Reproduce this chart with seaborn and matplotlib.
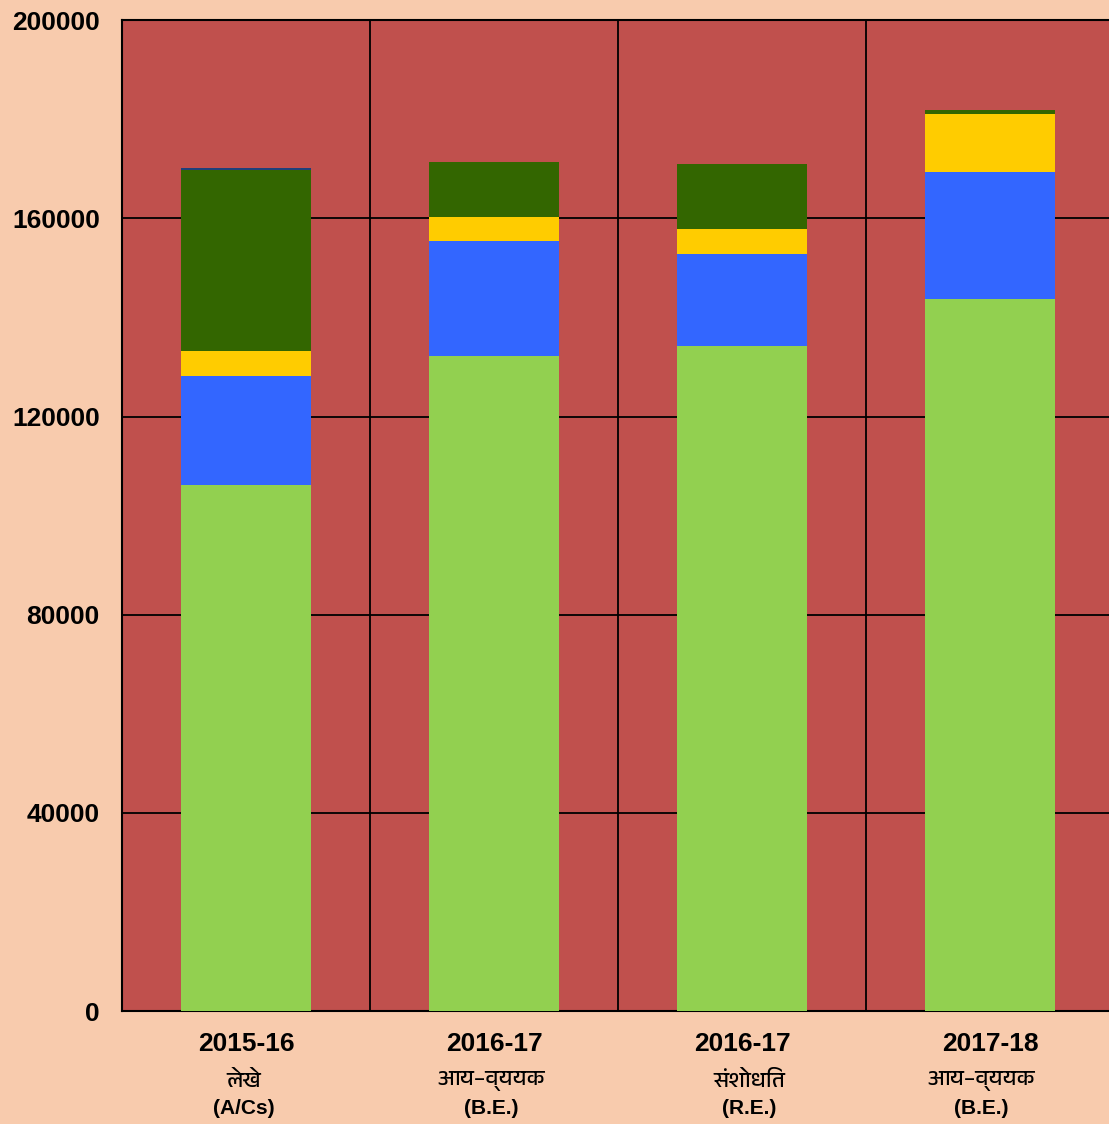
import numpy as np
import pandas as pd
import seaborn as sns
import matplotlib.pyplot as plt
from matplotlib import font_manager

# data
years = ['2015-16', '2016-17', '2016-17 ', '2017-18']
hindi = ['लेखे', 'आय–व्ययक', 'संशोधित', 'आय–व्ययक']
abbr = ['(A/Cs)', '(B.E.)', '(R.E.)', '(B.E.)']
part1 = [106200, 132200, 134200, 143700]
part2 = [22000, 23200, 18600, 25600]
part3 = [5000, 4800, 5000, 11700]
part4 = [36500, 11100, 13100, 800]
part5 = [400, 0, 0, 0]

colors = ['#92D050', '#3366FF', '#FFCC00', '#336600', '#1F3F7A']

sns.set_style("white")
plt.rcParams['font.family'] = ['Liberation Sans', 'DejaVu Sans']
plt.rcParams['text.color'] = 'black'
plt.rcParams['ytick.color'] = 'black'

deva = [f.name for f in font_manager.fontManager.ttflist if 'Devanagari' in f.name]
hindi_family = deva[:1] + ['Noto Sans', 'DejaVu Sans']

fig, ax = plt.subplots(figsize=(11.09, 11.24), dpi=100)
fig.patch.set_facecolor('#F8CBAD')
ax.set_facecolor('#C0504D')
fig.subplots_adjust(left=0.11, right=1.0, top=0.982, bottom=0.1005)

bottom = np.zeros(4)
for vals, c in zip([part1, part2, part3, part4, part5], colors):
    df = pd.DataFrame({'year': years, 'val': vals})
    sns.barplot(data=df, x='year', y='val', bottom=bottom, color=c,
                width=0.524, saturation=1, linewidth=0, edgecolor='none',
                ax=ax, zorder=3)
    bottom = bottom + np.array(vals)

ax.set_xlim(-0.5, 3.48)
ax.set_ylim(0, 200000)
ax.set_yticks([0, 40000, 80000, 120000, 160000, 200000])
ax.set_yticklabels(['0', '40000', '80000', '120000', '160000', '200000'],
                   fontsize=19, fontweight='bold', color='black')
ax.set_xticks([0.5, 1.5, 2.5], minor=True)
ax.set_xticks(range(4))
ax.set_xticklabels([])
ax.tick_params(axis='both', which='both', length=0, pad=16)
ax.grid(axis='y', color='black', linewidth=1.3, zorder=1)
ax.grid(axis='x', which='minor', color='black', linewidth=1.3, zorder=1)
ax.grid(axis='x', which='major', visible=False)
ax.set_axisbelow(True)
ax.set_xlabel('')
ax.set_ylabel('')

for s in ['left', 'bottom', 'top']:
    ax.spines[s].set_color('black')
    ax.spines[s].set_linewidth(1.5)
ax.spines['right'].set_visible(False)

trans = ax.get_xaxis_transform()
offs = [-0.01, -0.01, 0.03, -0.035]
for i in range(4):
    ax.text(i, -0.033, years[i].strip(), transform=trans, ha='center', va='center',
            fontsize=19, fontweight='bold')
    ax.text(i + offs[i], -0.071, hindi[i], transform=trans, ha='center', va='center',
            fontsize=16, family=hindi_family)
    ax.text(i + offs[i], -0.098, abbr[i], transform=trans, ha='center', va='center',
            fontsize=15, fontweight='bold')

fig.savefig('out.png', dpi=100, facecolor=fig.get_facecolor())
